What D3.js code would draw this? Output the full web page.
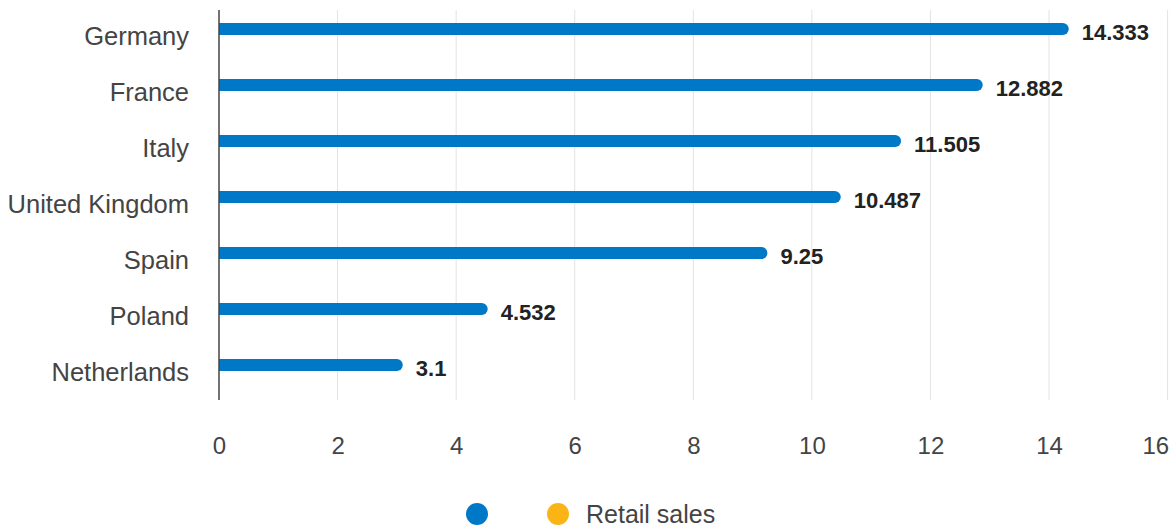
<!DOCTYPE html>
<html>
<head>
<meta charset="utf-8">
<script src="https://cdn.jsdelivr.net/npm/d3@7"></script>
<style>
  body { margin: 0; background: #fff; }
  text { font-family: "Liberation Sans", Arial, sans-serif; }
</style>
</head>
<body>
<div id="chart"></div>
<script>
// Data
var countries = ["Germany", "France", "Italy", "United Kingdom", "Spain", "Poland", "Netherlands"];
var retailSales = [14.333, 12.882, 11.505, 10.487, 9.25, 4.532, 3.1];
var xTicks = [0, 2, 4, 6, 8, 10, 12, 14, 16];
var legendItems = ["", "Retail sales"];
var legendColors = ["#0078c8", "#fbb416"];

// Layout
var width = 1171;
var height = 529;
var left = 219;
var right = 1167.6;
var plotTop = 10;
var plotBottom = 400;
var barWidth = 12;

var svg = d3.select("#chart").append("svg")
  .attr("width", width)
  .attr("height", height);

var xScale = d3.scaleLinear()
  .domain([0, 16])
  .range([left, right]);

var yScale = d3.scaleBand()
  .domain(countries)
  .range([1, 393]);

// gridlines
svg.append("g")
  .selectAll("line")
  .data(xTicks.slice(1))
  .enter().append("line")
  .attr("x1", d => xScale(d))
  .attr("x2", d => xScale(d))
  .attr("y1", plotTop)
  .attr("y2", plotBottom)
  .attr("stroke", "#e3e3e3")
  .attr("stroke-width", 1);

// x tick labels
var xAxis = d3.axisBottom(xScale).tickValues(xTicks).tickSize(0).tickPadding(0);
var xAxisGroup = svg.append("g")
  .attr("transform", `translate(0, 437)`)
  .call(xAxis);
xAxisGroup.select(".domain").remove();
xAxisGroup.selectAll("text")
  .attr("dy", "0.72em")
  .attr("y", 0)
  .attr("font-size", "24px")
  .attr("font-family", "'Liberation Sans', Arial, sans-serif")
  .attr("fill", "#444");
// last label is pulled in to stay inside the frame
xAxisGroup.selectAll("text")
  .filter(d => d === xTicks[xTicks.length - 1])
  .attr("text-anchor", "end")
  .attr("x", 1)

// bars
var bars = svg.append("g");
countries.forEach((c, i) => {
  var cy = yScale(c) + yScale.bandwidth() / 2;
  bars.append("line")
    .attr("x1", xScale(0) + barWidth / 2)
    .attr("x2", xScale(retailSales[i]) - barWidth / 2)
    .attr("y1", cy)
    .attr("y2", cy)
    .attr("stroke", legendColors[0])
    .attr("stroke-width", barWidth)
    .attr("stroke-linecap", "round");
  bars.append("rect")
    .attr("x", xScale(0))
    .attr("y", cy - barWidth / 2)
    .attr("width", barWidth)
    .attr("height", barWidth)
    .attr("fill", legendColors[0]);

  // value label
  svg.append("text")
    .attr("x", xScale(retailSales[i]) + 13)
    .attr("y", cy + 11)
    .attr("font-size", "22px")
    .attr("font-weight", "bold")
    .attr("fill", "#222")
    .text(retailSales[i]);

  // category label
  svg.append("text")
    .attr("x", 189)
    .attr("y", cy + 16)
    .attr("text-anchor", "end")
    .attr("font-size", "25.5px")
    .attr("fill", "#444")
    .text(c);
});

// y axis line
svg.append("line")
  .attr("x1", left)
  .attr("x2", left)
  .attr("y1", plotTop)
  .attr("y2", plotBottom)
  .attr("stroke", "#444")
  .attr("stroke-width", 1.5);

// legend
var legend = svg.append("g");
var legendX = [477, 558];
legendItems.forEach((l, i) => {
  legend.append("circle")
    .attr("cx", legendX[i])
    .attr("cy", 514)
    .attr("r", 11)
    .attr("fill", legendColors[i]);
  legend.append("text")
    .attr("x", legendX[i] + 28)
    .attr("y", 523)
    .attr("font-size", "25px")
    .attr("fill", "#444")
    .text(l);
});
</script>
</body>
</html>
